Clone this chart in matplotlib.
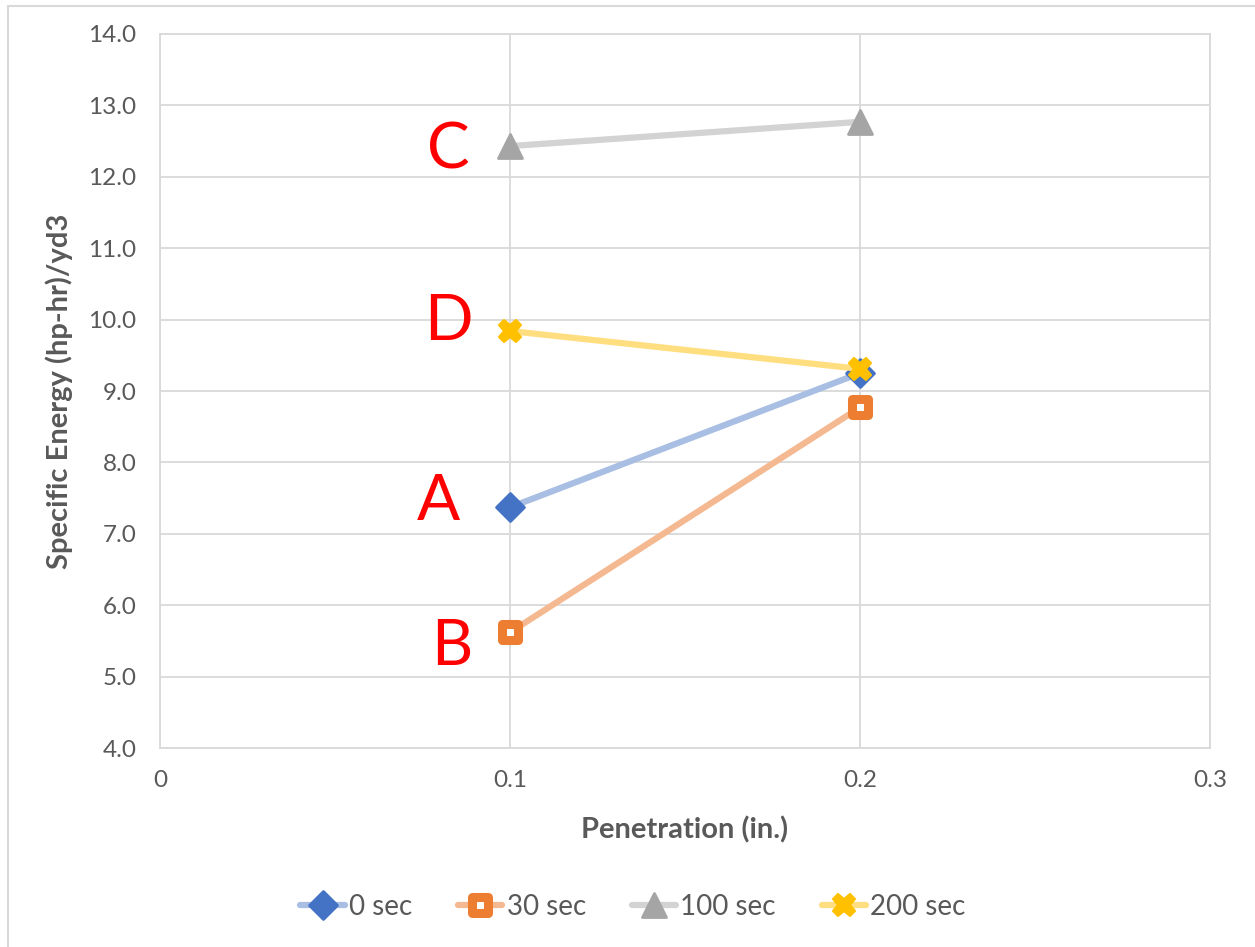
import matplotlib.pyplot as plt
from matplotlib.markers import MarkerStyle
from matplotlib.patches import Rectangle

# ── Data ────────────────────────────────────────────────────────────
penetration = [0.1, 0.2]
series_names = ['0 sec', '30 sec', '100 sec', '200 sec']
energy_0 = [7.37, 9.25]
energy_30 = [5.62, 8.77]
energy_100 = [12.43, 12.77]
energy_200 = [9.84, 9.31]

point_labels = ['A', 'B', 'C', 'D']
label_x = [0.0795, 0.0835, 0.0825, 0.0825]
label_y = [7.45, 5.42, 12.37, 9.97]

x_ticks = [0, 0.1, 0.2, 0.3]
x_ticklabels = ['0', '0.1', '0.2', '0.3']
y_ticks = [4, 5, 6, 7, 8, 9, 10, 11, 12, 13, 14]

# ── Styles ──────────────────────────────────────────────────────────
plt.rcParams['font.family'] = ['Lato', 'DejaVu Sans']
TXT = '#595959'
GRID = '#D9D9D9'

fig = plt.figure(figsize=(12.55, 9.47), dpi=100)
ax = fig.add_axes([160 / 1255, 1 - 748 / 947, 1050 / 1255, 714 / 947])

# outer chart-area border (cropped at right and bottom in the reference)
fig.patches.append(Rectangle((7.5 / 1255, -0.02), 1.1, 1 - 5.5 / 947 + 0.02,
                             transform=fig.transFigure, fill=False,
                             edgecolor='#D9D9D9', lw=1.5, zorder=0))

styles = [
    dict(data=energy_0, line='#A9BEE3', mk='D', mc='#4472C4', ms=14, mfc='#4472C4', mew=2),
    dict(data=energy_30, line='#F5B992', mk='s', mc='#ED7D31', ms=11, mfc='white', mew=6.5),
    dict(data=energy_100, line='#D3D3D3', mk='^', mc='#A5A5A5', ms=17, mfc='#A5A5A5', mew=2),
    dict(data=energy_200, line='#FFDE80', mk='X', mc='#FFC000', ms=16, mfc='#FFC000', mew=1.5),
]

for name, st in zip(series_names, styles):
    ax.plot(penetration, st['data'], color=st['line'], lw=4.5,
            solid_capstyle='round',
            marker=MarkerStyle(st['mk'], joinstyle='round'),
            markersize=st['ms'], markerfacecolor=st['mfc'],
            markeredgecolor=st['mc'], markeredgewidth=st['mew'],
            label=name, zorder=3)

# A/B/C/D annotations
for lab, lx, ly in zip(point_labels, label_x, label_y):
    ax.text(lx, ly, lab, color='#FF0000', fontsize=46, ha='center',
            va='center', zorder=4)

ax.set_xlim(0, 0.3)
ax.set_ylim(4, 14)
ax.set_xticks(x_ticks)
ax.set_xticklabels(x_ticklabels)
ax.set_yticks(y_ticks)
ax.set_yticklabels([f'{v:.1f}' for v in y_ticks])
ax.tick_params(length=0, labelsize=17.5, labelcolor=TXT)
ax.tick_params(axis='y', pad=17)
ax.tick_params(axis='x', pad=16)
ax.grid(True, color=GRID, lw=1.3)
ax.set_axisbelow(True)
for sp in ax.spines.values():
    sp.set_color(GRID)
    sp.set_linewidth(1.3)

ax.set_xlabel('Penetration (in.)', fontsize=21, fontweight='bold',
              color=TXT, labelpad=18)
ax.set_ylabel('Specific Energy (hp-hr)/yd3', fontsize=21, fontweight='bold',
              color=TXT, labelpad=11)

ax.legend(loc='center', bbox_to_anchor=(633 / 1255, 1 - 907 / 947),
          bbox_transform=fig.transFigure, ncol=4, frameon=False,
          fontsize=20, labelcolor=TXT, handlelength=1.6, handletextpad=0.15,
          columnspacing=1.65, markerscale=1.0)

fig.savefig('out.png', dpi=100)
